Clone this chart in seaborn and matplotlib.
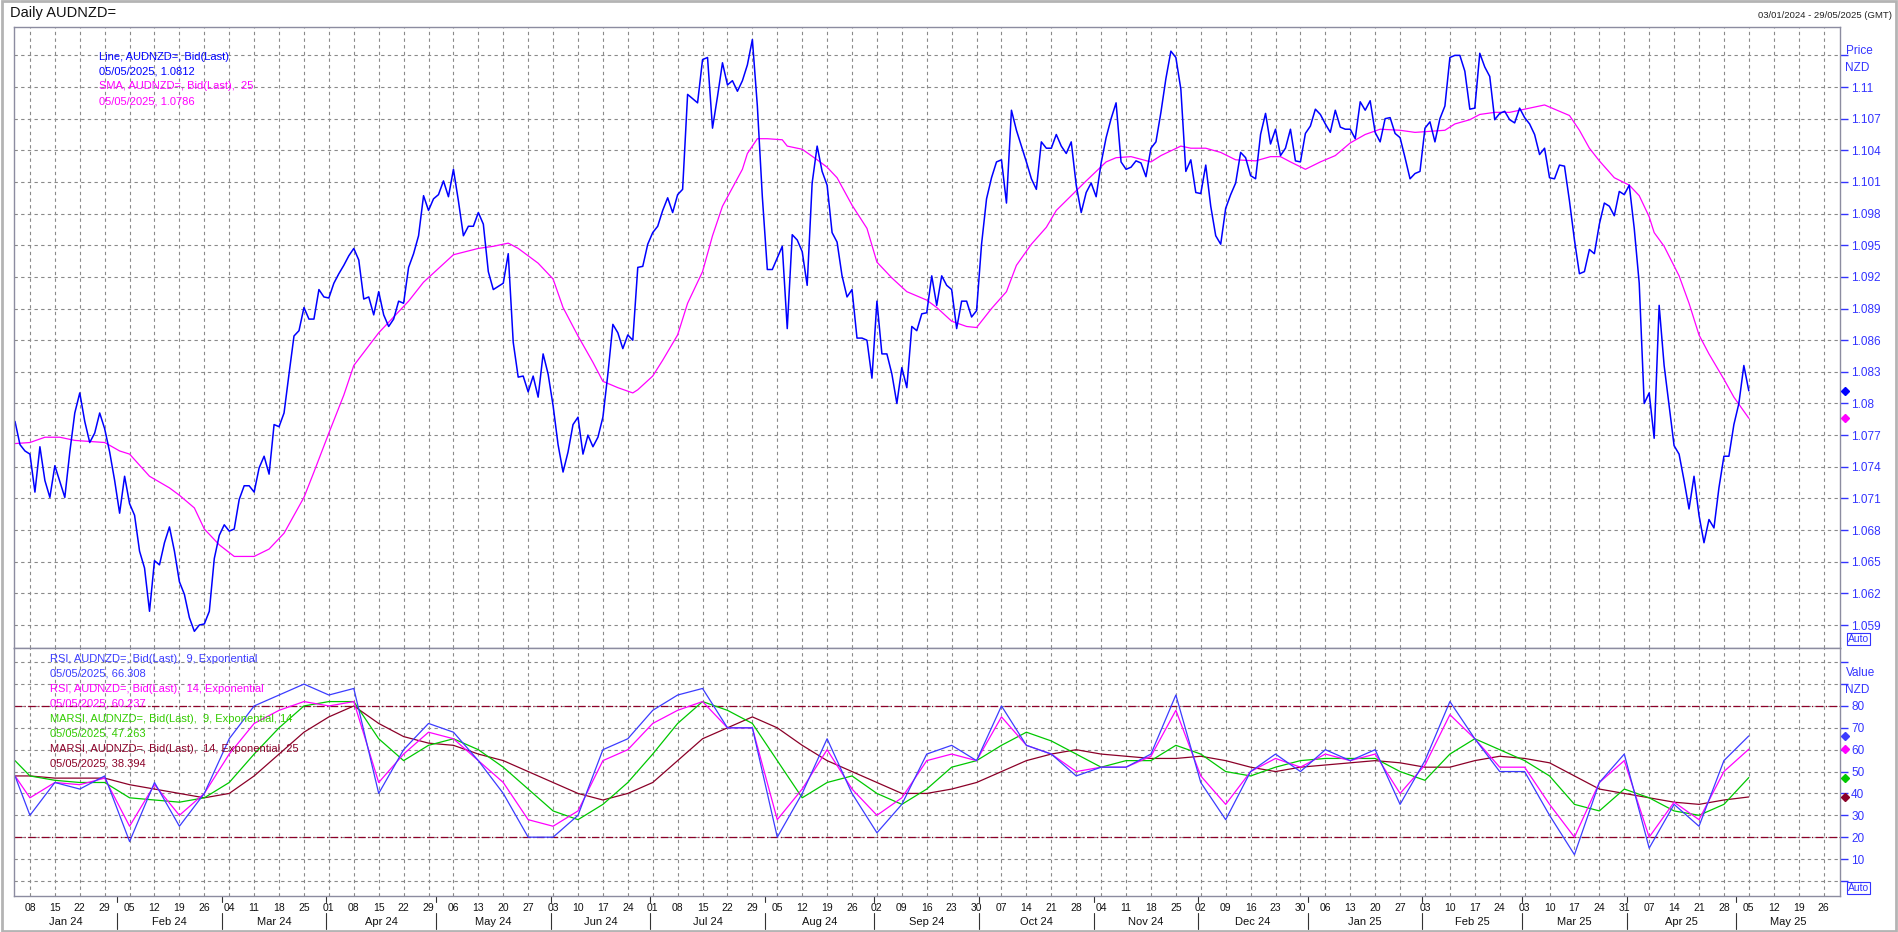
import numpy as np
import pandas as pd
import matplotlib
matplotlib.use("Agg")
import matplotlib.pyplot as plt
import matplotlib.transforms as mtransforms
from matplotlib.patches import Rectangle
from matplotlib import font_manager
import seaborn as sns

# ---- data ----
start_date = "2024-01-03"
end_date = "2025-05-29"

# daily close, business days from 03/01/2024 to 05/05/2025
price = [
    1.0783, 1.0761, 1.0755, 1.0752, 1.0716, 1.0759, 1.0727, 1.0711, 1.0741, 1.0726,
    1.0711, 1.0754, 1.0791, 1.0810, 1.0783, 1.0763, 1.0772, 1.0791, 1.0776, 1.0754,
    1.0727, 1.0696, 1.0731, 1.0705, 1.0694, 1.0660, 1.0644, 1.0603, 1.0651, 1.0647,
    1.0668, 1.0683, 1.0660, 1.0631, 1.0619, 1.0597, 1.0584, 1.0590, 1.0591, 1.0603,
    1.0653, 1.0675, 1.0685, 1.0679, 1.0681, 1.0709, 1.0722, 1.0722, 1.0716, 1.0739,
    1.0750, 1.0733, 1.0780, 1.0778, 1.0791, 1.0828, 1.0864, 1.0869, 1.0891, 1.0880,
    1.0880, 1.0908, 1.0901, 1.0900, 1.0914, 1.0923, 1.0931, 1.0940, 1.0947, 1.0936,
    1.0899, 1.0901, 1.0884, 1.0906,
    1.0884, 1.0873, 1.0880, 1.0897, 1.0895, 1.0929, 1.0942, 1.0959, 1.0997, 1.0983,
    1.0994, 1.0998, 1.1011, 1.0996, 1.1022, 1.0992, 1.0959, 1.0968, 1.0968, 1.0981,
    1.0970, 1.0925, 1.0908, 1.0911, 1.0914, 1.0942, 1.0858, 1.0825, 1.0826, 1.0811,
    1.0826, 1.0806, 1.0847, 1.0828, 1.0798, 1.0761, 1.0735, 1.0754, 1.0780, 1.0787,
    1.0752, 1.0770, 1.0759, 1.0768, 1.0787, 1.0828, 1.0875, 1.0867, 1.0852, 1.0865,
    1.0860, 1.0929, 1.0930, 1.0951, 1.0962, 1.0968, 1.0983, 1.0995, 1.0981, 1.0998,
    1.1003, 1.1093, 1.1089, 1.1085, 1.1126, 1.1128, 1.1061, 1.1091, 1.1123, 1.1102,
    1.1106, 1.1096, 1.1106,
    1.1121, 1.1145, 1.1082, 1.0996, 1.0927, 1.0927, 1.0938, 1.0949, 1.0871, 1.0960,
    1.0955, 1.0944, 1.0912, 1.1009, 1.1044, 1.1020, 1.1007, 1.0962, 1.0953, 1.0921,
    1.0901, 1.0908, 1.0862, 1.0862, 1.0860, 1.0824, 1.0897, 1.0847, 1.0847, 1.0828,
    1.0800, 1.0834, 1.0815, 1.0873, 1.0869, 1.0885, 1.0886, 1.0921, 1.0893, 1.0921,
    1.0912, 1.0908, 1.0871, 1.0897, 1.0897, 1.0882, 1.0888, 1.0951, 1.0994, 1.1014,
    1.1029, 1.1031, 1.0990, 1.1078, 1.1059, 1.1044, 1.1029, 1.1013, 1.1003, 1.1048,
    1.1042, 1.1042, 1.1055, 1.1044, 1.1037, 1.1048, 1.1007, 1.0981, 1.1000, 1.1009,
    1.0996, 1.1028, 1.1052,
    1.1070, 1.1085, 1.1029, 1.1022, 1.1024, 1.1030, 1.1028, 1.1015, 1.1042, 1.1048,
    1.1076, 1.1108, 1.1134, 1.1128, 1.1098, 1.1020, 1.1031, 1.1000, 1.0999, 1.1026,
    1.0987, 1.0959, 1.0951, 1.0985, 1.0998, 1.1009, 1.1038, 1.1033, 1.1016, 1.1013,
    1.1055, 1.1075, 1.1046, 1.1060, 1.1035, 1.1042, 1.1060, 1.1030, 1.1029, 1.1056,
    1.1063, 1.1079, 1.1074, 1.1065, 1.1057, 1.1078, 1.1062, 1.1060, 1.1060, 1.1051,
    1.1086, 1.1078, 1.1087, 1.1057, 1.1048, 1.1070, 1.1071, 1.1056, 1.1052, 1.1033,
    1.1013, 1.1018, 1.1020, 1.1061, 1.1067, 1.1048, 1.1070, 1.1082, 1.1128, 1.1130,
    1.1130, 1.1115, 1.1079,
    1.1080, 1.1132, 1.1119, 1.1110, 1.1069, 1.1075, 1.1077, 1.1069, 1.1066, 1.1080,
    1.1071, 1.1065, 1.1055, 1.1036, 1.1042, 1.1014, 1.1013, 1.1026, 1.1025, 1.0992,
    1.0955, 1.0923, 1.0925, 1.0946, 1.0942, 1.0970, 1.0990, 1.0987, 1.0978, 1.1001,
    1.0998, 1.1007, 1.0966, 1.0914, 1.0800, 1.0810, 1.0767, 1.0893, 1.0836, 1.0798,
    1.0760, 1.0752, 1.0727, 1.0700, 1.0731, 1.0694, 1.0668, 1.0690, 1.0682, 1.0720,
    1.0750, 1.0750, 1.0780, 1.0800, 1.0836, 1.0812,
]

# 25-day SMA, read at selected business-day offsets
sma_day = [
    0, 3, 6, 9, 12, 18, 21, 23, 27, 31, 33, 36, 38, 41, 44, 48, 51, 54, 58, 60, 63, 66, 68, 73,
    75, 79, 82, 85, 88, 93, 96, 99, 101, 105, 108, 110, 113, 116, 118, 121, 124, 125, 128, 130,
    133, 135, 138, 140, 142, 146,
    147, 149, 151, 154, 155, 158, 161, 163, 165, 168, 171, 173, 176, 179, 183, 185, 188, 191,
    193, 196, 199, 201, 204, 207, 209, 212, 215, 219,
    221, 224, 228, 230, 234, 236, 239, 242, 245, 249, 252, 254, 256, 259, 262, 265, 268, 271,
    274, 278, 281, 284, 287, 289, 292,
    294, 297, 300, 304, 307, 309, 312, 314, 316, 318, 321, 324, 326, 328, 329, 331, 334, 336,
    338, 340, 343, 345, 348,
]
sma_value = [
    1.0762, 1.0763, 1.0768, 1.0768, 1.0765, 1.0763, 1.0755, 1.0752, 1.0731, 1.0720, 1.0713,
    1.0701, 1.0681, 1.0666, 1.0655, 1.0655, 1.0662, 1.0677, 1.0711, 1.0735, 1.0772, 1.0808,
    1.0836, 1.0867,
    1.0877, 1.0897, 1.0915, 1.0928, 1.0941, 1.0947, 1.0949, 1.0952, 1.0947, 1.0933, 1.0918,
    1.0891, 1.0864, 1.0839, 1.0821, 1.0815, 1.0810, 1.0813, 1.0826, 1.0841, 1.0865, 1.0895,
    1.0925, 1.0959, 1.0987, 1.1022,
    1.1037, 1.1051, 1.1051, 1.1050, 1.1044, 1.1041, 1.1031, 1.1024, 1.1014, 1.0988, 1.0966,
    1.0934, 1.0919, 1.0906, 1.0898, 1.0891, 1.0878, 1.0873, 1.0872, 1.0890, 1.0906, 1.0931,
    1.0951, 1.0967, 1.0983, 1.0997, 1.1011, 1.1029,
    1.1033, 1.1034, 1.1029, 1.1035, 1.1044, 1.1042, 1.1042, 1.1038, 1.1031, 1.1030, 1.1034,
    1.1034, 1.1029, 1.1022, 1.1029, 1.1035, 1.1047, 1.1055, 1.1060, 1.1059, 1.1057, 1.1058,
    1.1059, 1.1065, 1.1069,
    1.1074, 1.1076, 1.1076, 1.1080, 1.1083, 1.1079, 1.1073, 1.1059, 1.1042, 1.1030, 1.1014,
    1.1007, 1.0997, 1.0977, 1.0962, 1.0949, 1.0921, 1.0895, 1.0865, 1.0847, 1.0823, 1.0806,
    1.0786,
]

# RSI panel, read at the first day and every Monday
rsi_day = [0] + list(range(3, 349, 5))
rsi9 = [48, 30, 45, 42, 48, 18, 45, 25, 40, 65, 80, 85, 90, 85, 88, 40, 60, 72, 68, 55, 40, 20,
        20, 30, 60, 65, 78, 85, 88, 70, 70, 20, 40, 65, 40, 22, 35, 58, 62, 55, 80, 62, 58, 48,
        52, 52, 58, 85, 45, 28, 50, 58, 50, 60, 55, 60, 35, 55, 82, 65, 50, 50, 30, 12, 45, 58,
        15, 35, 25, 55, 66.308]
rsi14 = [48, 38, 45, 44, 47, 25, 44, 30, 40, 58, 72, 78, 82, 80, 82, 45, 58, 68, 65, 55, 45, 28,
         25, 32, 55, 60, 72, 78, 82, 70, 70, 28, 42, 60, 42, 30, 38, 55, 58, 55, 75, 62, 58, 50,
         52, 52, 57, 78, 48, 35, 50, 56, 52, 58, 55, 58, 40, 53, 76, 65, 52, 52, 35, 20, 45, 55,
         20, 36, 28, 50, 60.237]
marsi9 = [55, 48, 46, 45, 45, 38, 37, 36, 38, 45, 58, 70, 80, 82, 82, 65, 55, 62, 65, 60, 52, 42,
          32, 28, 35, 45, 58, 72, 82, 78, 72, 55, 38, 45, 48, 40, 35, 42, 52, 55, 62, 68, 64, 58,
          52, 55, 55, 62, 58, 50, 48, 52, 55, 56, 56, 56, 50, 46, 58, 65, 60, 55, 48, 35, 32, 42,
          38, 32, 30, 35, 47.263]
marsi14 = [48, 48, 47, 47, 47, 44, 42, 40, 38, 40, 48, 58, 68, 75, 80, 72, 66, 63, 62, 58, 55, 50,
           45, 40, 37, 40, 45, 55, 65, 70, 75, 70, 62, 55, 50, 45, 40, 40, 42, 45, 50, 55, 58, 60,
           58, 57, 56, 56, 57, 55, 52, 50, 52, 53, 54, 55, 54, 52, 52, 55, 57, 56, 54, 48, 42, 40,
           38, 36, 35, 37, 38.394]

price_ticks = [1.059, 1.062, 1.065, 1.068, 1.071, 1.074, 1.077, 1.08, 1.083, 1.086, 1.089,
               1.092, 1.095, 1.098, 1.101, 1.104, 1.107, 1.11, 1.113]
value_ticks = [0, 10, 20, 30, 40, 50, 60, 70, 80, 90, 100]

# ---- style ----
sns.set_theme(style="white")
names = {f.name for f in font_manager.fontManager.ttflist}
BASE = "Liberation Sans"
NARROW = "Liberation Sans Narrow" if "Liberation Sans Narrow" in names else BASE
plt.rcParams["font.family"] = [BASE, "DejaVu Sans"]

PRICE_C = "#0000FF"
SMA_C = "#FF00FF"
RSI9_C = "#3C3CFF"
RSI14_C = "#FF00FF"
MARSI9_C = "#00C800"
MARSI14_C = "#8B0028"
AXIS_BLUE = "#3333FF"
GRID_C = "#8A8A8A"

W, H = 1898, 932
fig = plt.figure(figsize=(W / 100, H / 100), dpi=100)
fig.patch.set_facecolor("white")
L, R = 14, 1840
ax1 = fig.add_axes([L / W, 1 - 648 / H, (R - L) / W, (648 - 27) / H])
ax2 = fig.add_axes([L / W, 1 - 896 / H, (R - L) / W, (896 - 648) / H])

all_dates = pd.bdate_range(start_date, end_date)
price_df = pd.DataFrame({"day": np.arange(len(price)), "price": price})
sma_df = pd.DataFrame({"day": sma_day, "sma": sma_value})
rsi_df = pd.DataFrame({"day": rsi_day, "rsi9": rsi9, "rsi14": rsi14,
                       "marsi9": marsi9, "marsi14": marsi14})

# ---- price panel ----
sns.lineplot(data=sma_df, x="day", y="sma", ax=ax1, color=SMA_C, linewidth=0.9,
             estimator=None, sort=False)
sns.lineplot(data=price_df, x="day", y="price", ax=ax1, color=PRICE_C, linewidth=1.1,
             estimator=None, sort=False)
ax1.set_ylim(1.05682, 1.11569)

# ---- RSI panel ----
for lvl in (80, 20):
    ax2.axhline(lvl, color=MARSI14_C, linestyle=(0, (6, 2, 1, 2)), linewidth=0.9, zorder=1.5)
for col, c, lw in [("marsi14", MARSI14_C, 0.9), ("marsi9", MARSI9_C, 0.9),
                   ("rsi14", RSI14_C, 0.9), ("rsi9", RSI9_C, 0.9)]:
    sns.lineplot(data=rsi_df, x="day", y=col, ax=ax2, color=c, linewidth=lw,
                 estimator=None, sort=False)
ax2.set_ylim(-6.9, 106.5)

mondays = [i for i, d in enumerate(all_dates) if d.weekday() == 0]
xlim = (-0.2, 366.3)
for ax in (ax1, ax2):
    ax.set_xlim(*xlim)
    ax.set_xlabel("")
    ax.set_ylabel("")
    ax.set_xticks(mondays)
    ax.yaxis.tick_right()
    ax.tick_params(axis="y", direction="out", length=6, width=1, color=AXIS_BLUE,
                   labelcolor=AXIS_BLUE, labelsize=8.5, pad=2)
    ax.grid(True, color=GRID_C, linestyle=(0, (3, 3)), linewidth=0.8)
    ax.set_axisbelow(True)
    for s in ax.spines.values():
        s.set_color("#8C8CA0")
        s.set_linewidth(1.0)

ax1.set_yticks(price_ticks)
ax1.set_yticklabels([("%.3f" % v).rstrip("0") if v < 1.112 else "" for v in price_ticks])
ax2.set_yticks(value_ticks)
ax2.set_yticklabels([str(v) if 10 <= v <= 80 else "" for v in value_ticks])

ax1.tick_params(axis="x", length=0, labelbottom=False)
ax2.set_xticklabels([f"{all_dates[i].day:02d}" for i in mondays], fontsize=7.5,
                    family=NARROW, color="#111111")
ax2.tick_params(axis="x", length=4, width=0.8, color="#333333", pad=1)

# month separators and labels
trans = mtransforms.blended_transform_factory(ax2.transData, ax2.transAxes)
month_start = [i for i in range(1, len(all_dates))
               if all_dates[i].month != all_dates[i - 1].month]
for m in month_start:
    ax2.plot([m - 0.5, m - 0.5], [0, -0.025], transform=trans, clip_on=False,
             color="#333333", lw=0.8)
    ax2.plot([m - 0.5, m - 0.5], [-0.07, -0.135], transform=trans, clip_on=False,
             color="#333333", lw=0.8)
bounds = [xlim[0]] + [m - 0.5 for m in month_start] + [xlim[1]]
for a, b in zip(bounds[:-1], bounds[1:]):
    lab = all_dates[int(np.ceil(a))].strftime("%b %y")
    ax2.text((a + b) / 2, -0.105, lab, transform=trans, ha="center", va="center",
             fontsize=8, family=NARROW, color="#111111")

# last-value diamonds on the right axis
for ax, vals in [(ax1, [(price[-1], PRICE_C), (sma_value[-1], SMA_C)]),
                 (ax2, [(rsi9[-1], RSI9_C), (rsi14[-1], RSI14_C),
                        (marsi9[-1], MARSI9_C), (marsi14[-1], MARSI14_C)])]:
    t = mtransforms.blended_transform_factory(ax.transAxes, ax.transData)
    for v, c in vals:
        ax.plot([1.003], [v], marker="D", markersize=4.5, color=c, transform=t,
                clip_on=False, zorder=5)


def ftext(x, y, s, **kw):
    fig.text(x / W, 1 - y / H, s, **kw)


# titles and annotations
ftext(10, 13, "Daily AUDNZD=", fontsize=10.5, va="center", ha="left", color="#111111")
ftext(1892, 15, "03/01/2024 - 29/05/2025 (GMT)", fontsize=6.8, va="center", ha="right",
      color="#222222")
ftext(1846, 51, "Price", fontsize=8.5, va="center", color=AXIS_BLUE)
ftext(1845, 68, "NZD", fontsize=8.5, va="center", color=AXIS_BLUE)
ftext(1846, 673, "Value", fontsize=8.5, va="center", color=AXIS_BLUE)
ftext(1845, 690, "NZD", fontsize=8.5, va="center", color=AXIS_BLUE)
for y in (639, 888):
    ftext(1848, y, "Auto", fontsize=7.5, va="center", color=AXIS_BLUE,
          bbox=dict(boxstyle="square,pad=0.12", fc="white", ec=AXIS_BLUE, lw=0.8))

top_legend = [
    ("Line, AUDNZD=, Bid(Last)", PRICE_C),
    ("05/05/2025, %.4f" % price[-1], PRICE_C),
    ("SMA, AUDNZD=, Bid(Last),  25", SMA_C),
    ("05/05/2025, %.4f" % sma_value[-1], SMA_C),
]
for k, (s, c) in enumerate(top_legend):
    ftext(99, 57 + 14.7 * k, s, fontsize=8, va="center", color=c)

low_legend = [
    ("RSI, AUDNZD=, Bid(Last),  9, Exponential", RSI9_C),
    ("05/05/2025, %.3f" % rsi9[-1], RSI9_C),
    ("RSI, AUDNZD=, Bid(Last),  14, Exponential", RSI14_C),
    ("05/05/2025, %.3f" % rsi14[-1], RSI14_C),
    ("MARSI, AUDNZD=, Bid(Last),  9, Exponential, 14", "#33CC00"),
    ("05/05/2025, %.3f" % marsi9[-1], "#33CC00"),
    ("MARSI, AUDNZD=, Bid(Last),  14, Exponential, 25", MARSI14_C),
    ("05/05/2025, %.3f" % marsi14[-1], MARSI14_C),
]
for k, (s, c) in enumerate(low_legend):
    ftext(50, 659 + 15 * k, s, fontsize=8, va="center", color=c)

# outer frame
fig.patches.append(Rectangle((0.001, 0.001), 0.998, 0.998, transform=fig.transFigure,
                             fill=False, edgecolor="#B4B4B4", lw=2))

fig.savefig("out.png", dpi=100, facecolor="white")
